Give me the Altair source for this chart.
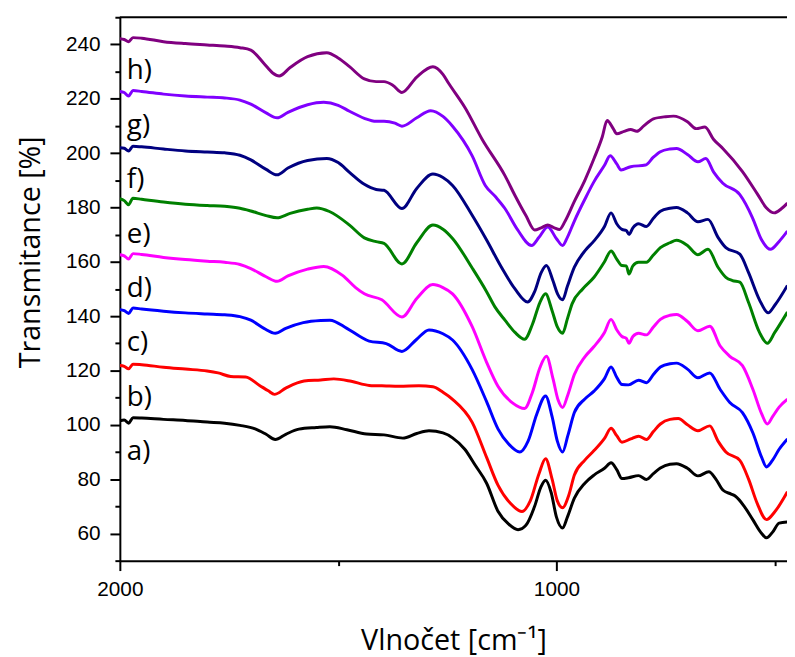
import altair as alt
import pandas as pd

series_keys = ["a", "b", "c", "d", "e", "f", "g", "h"]
series_colors = ["#000000", "#ff0000", "#0000ff", "#ff00ff", "#008000", "#000080", "#8000ff", "#800080"]
label_texts = ["a)", "b)", "c)", "d)", "e)", "f)", "g)", "h)"]
label_wn = [1984] * 8
label_tr = [90, 110, 130, 150, 170, 190, 210, 230]

wn_a = [2000, 1990, 1980, 1970, 1950, 1900, 1850, 1800, 1760, 1725, 1690, 1665, 1644, 1620, 1590, 1550, 1519, 1480, 1435, 1395, 1352, 1320, 1292, 1260, 1238, 1210, 1186, 1160, 1134, 1110, 1088, 1070, 1050, 1036, 1025, 1012, 1000, 986, 975, 959, 935, 914, 890, 875, 862, 850, 835, 812, 794, 778, 762, 740, 725, 700, 676, 651, 635, 619, 600, 590, 570, 550, 530, 519, 505, 490, 471]
tr_a = [101.5, 101.8, 100.6, 102.6, 102.5, 102.0, 101.6, 101.0, 100.6, 99.8, 98.5, 96.5, 94.6, 96.5, 98.4, 99.0, 99.3, 98.2, 96.6, 96.3, 95.1, 96.8, 97.8, 97.0, 95.2, 91.0, 85.1, 78.5, 68.2, 63.5, 61.4, 63.0, 70.0, 77.0, 79.6, 75.0, 66.0, 62.0, 66.0, 73.0, 78.5, 81.5, 84.0, 86.0, 83.5, 80.2, 80.5, 81.3, 79.9, 82.0, 84.1, 85.5, 85.7, 84.0, 81.2, 82.7, 80.0, 76.0, 74.5, 73.7, 70.0, 65.0, 60.0, 58.4, 60.5, 63.8, 64.2]

wn_b = [2000, 1990, 1980, 1970, 1950, 1900, 1850, 1800, 1775, 1746, 1712, 1680, 1660, 1646, 1620, 1578, 1540, 1510, 1470, 1429, 1390, 1360, 1315, 1283, 1260, 1238, 1193, 1160, 1134, 1105, 1079, 1060, 1040, 1025, 1010, 998, 986, 972, 959, 935, 914, 890, 875, 862, 850, 830, 812, 794, 778, 762, 740, 721, 700, 676, 649, 630, 612, 580, 560, 540, 519, 500, 471]
tr_b = [121.8, 121.5, 120.6, 122.3, 122.1, 121.2, 120.5, 119.8, 119.1, 117.8, 117.6, 114.5, 112.5, 111.2, 113.5, 116.1, 116.5, 116.9, 116.0, 114.5, 114.3, 114.2, 114.4, 114.0, 112.0, 109.4, 100.9, 88.0, 77.8, 71.0, 68.1, 72.0, 82.0, 87.5, 80.0, 72.0, 69.5, 74.0, 81.5, 87.0, 90.5, 95.0, 98.7, 96.0, 93.6, 94.8, 95.8, 94.6, 97.5, 100.3, 102.0, 102.3, 100.0, 97.8, 99.6, 94.0, 90.0, 86.9, 80.0, 71.0, 65.1, 68.0, 75.4]

wn_c = [2000, 1990, 1980, 1970, 1950, 1900, 1850, 1800, 1760, 1725, 1700, 1670, 1644, 1620, 1580, 1540, 1519, 1480, 1450, 1429, 1390, 1354, 1320, 1292, 1260, 1238, 1193, 1160, 1134, 1110, 1084, 1065, 1045, 1025, 1010, 998, 986, 974, 959, 935, 914, 890, 875, 862, 850, 835, 812, 794, 778, 762, 740, 725, 700, 676, 649, 625, 603, 574, 550, 530, 519, 505, 490, 471]
tr_c = [142.4, 142.0, 141.0, 143.0, 142.6, 141.8, 141.2, 140.8, 140.5, 139.8, 138.5, 135.5, 133.7, 135.5, 137.6, 138.4, 138.5, 135.5, 132.5, 130.8, 129.9, 127.0, 131.5, 134.9, 133.5, 131.2, 120.3, 108.5, 98.5, 93.0, 90.0, 94.0, 104.0, 110.6, 103.0, 94.0, 90.0, 96.0, 104.5, 109.5, 112.4, 117.0, 121.3, 117.5, 114.8, 114.7, 116.4, 115.5, 118.5, 121.3, 122.5, 122.7, 120.5, 117.3, 119.1, 113.0, 108.2, 104.5, 97.0, 88.0, 84.5, 87.0, 91.0, 94.8]

wn_d = [2000, 1990, 1980, 1970, 1950, 1900, 1850, 1800, 1760, 1725, 1700, 1665, 1640, 1615, 1570, 1533, 1490, 1460, 1440, 1400, 1354, 1320, 1283, 1260, 1238, 1193, 1160, 1134, 1100, 1073, 1055, 1038, 1023, 1008, 996, 986, 974, 959, 935, 914, 890, 875, 862, 850, 840, 834, 825, 812, 794, 778, 762, 740, 725, 700, 676, 649, 625, 603, 574, 550, 530, 517, 505, 490, 471]
tr_d = [162.6, 162.2, 161.0, 163.0, 162.7, 161.6, 160.8, 160.2, 159.8, 159.0, 157.5, 154.5, 152.8, 154.8, 157.3, 158.3, 155.0, 150.5, 148.2, 146.0, 139.7, 146.5, 151.6, 150.5, 148.2, 136.1, 123.0, 114.2, 108.0, 106.0, 112.0, 121.0, 125.2, 117.0, 109.0, 106.4, 111.0, 118.5, 125.0, 128.8, 134.0, 138.8, 135.0, 132.5, 131.8, 130.0, 132.5, 133.7, 133.1, 136.0, 138.8, 140.3, 140.6, 138.0, 134.6, 136.3, 129.0, 125.2, 121.8, 113.0, 104.0, 100.3, 103.0, 106.5, 109.4]

wn_e = [2000, 1990, 1980, 1970, 1950, 1900, 1850, 1800, 1760, 1725, 1700, 1665, 1640, 1610, 1570, 1549, 1520, 1474, 1440, 1413, 1395, 1354, 1320, 1283, 1260, 1238, 1193, 1160, 1141, 1118, 1095, 1073, 1055, 1038, 1025, 1010, 998, 986, 975, 964, 940, 914, 890, 875, 862, 850, 840, 834, 825, 812, 794, 778, 762, 740, 725, 700, 676, 653, 630, 612, 597, 580, 560, 535, 517, 500, 471]
tr_e = [183.2, 182.5, 181.0, 183.4, 183.0, 182.0, 181.2, 180.7, 180.4, 179.7, 178.7, 177.0, 176.2, 177.8, 179.3, 179.8, 178.5, 173.5, 168.8, 167.4, 166.8, 159.2, 167.0, 173.5, 172.0, 168.6, 157.7, 149.0, 143.4, 138.5, 134.0, 131.5, 137.0, 145.0, 148.2, 142.0, 136.0, 133.7, 139.0, 144.6, 150.0, 154.3, 160.0, 164.0, 161.0, 158.6, 158.5, 155.5, 158.5, 159.8, 159.8, 162.5, 165.2, 167.0, 167.9, 166.0, 162.6, 164.6, 158.0, 154.3, 153.1, 152.5, 145.0, 134.0, 130.0, 134.0, 141.5]

wn_f = [2000, 1990, 1980, 1970, 1950, 1900, 1850, 1800, 1760, 1725, 1700, 1665, 1640, 1615, 1570, 1526, 1500, 1474, 1440, 1413, 1395, 1354, 1320, 1283, 1260, 1238, 1193, 1160, 1125, 1095, 1066, 1050, 1035, 1023, 1008, 997, 986, 975, 959, 935, 914, 890, 875, 862, 850, 840, 834, 825, 812, 794, 778, 762, 740, 725, 700, 676, 653, 630, 612, 580, 560, 535, 515, 500, 471]
tr_f = [202.0, 201.8, 200.8, 202.5, 202.3, 201.5, 200.8, 200.4, 200.1, 199.2, 197.5, 194.0, 192.0, 194.5, 197.3, 198.0, 196.5, 192.9, 188.5, 186.6, 186.3, 179.6, 187.0, 192.3, 191.0, 188.1, 177.1, 168.0, 157.7, 150.0, 145.2, 149.0, 156.0, 158.6, 153.0, 148.0, 146.0, 151.0, 158.0, 164.0, 167.7, 173.0, 178.0, 174.0, 171.9, 171.5, 170.1, 172.5, 174.0, 173.0, 176.0, 178.6, 179.7, 180.0, 178.0, 174.7, 175.6, 169.0, 165.2, 162.8, 156.0, 146.0, 141.2, 144.0, 151.3]

wn_g = [2000, 1990, 1980, 1970, 1950, 1900, 1850, 1800, 1760, 1725, 1700, 1665, 1640, 1615, 1570, 1533, 1500, 1474, 1440, 1413, 1395, 1370, 1354, 1320, 1288, 1260, 1238, 1193, 1163, 1140, 1118, 1090, 1057, 1040, 1020, 1000, 986, 975, 959, 935, 914, 890, 877, 862, 852, 830, 796, 778, 762, 740, 725, 700, 676, 658, 640, 619, 580, 551, 530, 510, 490, 471]
tr_g = [222.7, 222.3, 221.0, 223.0, 222.7, 221.7, 221.0, 220.6, 220.3, 219.5, 218.0, 214.8, 213.0, 215.0, 217.8, 218.7, 217.6, 215.4, 212.8, 211.7, 211.7, 211.0, 209.9, 213.0, 215.6, 213.5, 209.9, 199.0, 188.1, 184.0, 179.6, 172.0, 166.0, 169.0, 172.8, 168.5, 166.0, 169.0, 175.0, 183.0, 189.5, 195.5, 199.0, 196.0, 193.8, 195.0, 195.6, 198.5, 200.5, 201.5, 201.7, 199.5, 196.8, 198.0, 193.0, 188.9, 184.7, 176.2, 168.0, 164.6, 167.5, 171.3]

wn_h = [2000, 1990, 1980, 1970, 1950, 1900, 1850, 1800, 1760, 1725, 1700, 1670, 1650, 1635, 1610, 1570, 1526, 1500, 1474, 1440, 1413, 1395, 1375, 1354, 1320, 1283, 1260, 1247, 1209, 1170, 1118, 1095, 1070, 1050, 1035, 1020, 1005, 993, 980, 959, 935, 914, 895, 884, 870, 862, 845, 830, 816, 800, 778, 750, 732, 700, 680, 660, 640, 619, 574, 540, 520, 501, 485, 471]
tr_h = [242.1, 241.8, 241.0, 242.5, 242.3, 241.0, 240.3, 239.8, 239.4, 238.8, 237.9, 233.0, 229.5, 228.4, 231.5, 235.5, 236.9, 235.0, 231.8, 227.3, 226.3, 226.3, 225.0, 222.3, 228.0, 231.8, 229.0, 225.7, 216.6, 205.0, 191.7, 184.4, 177.0, 171.7, 172.5, 173.5, 172.5, 171.9, 175.0, 182.2, 190.0, 198.0, 206.0, 212.0, 209.0, 207.1, 208.0, 208.7, 208.0, 210.0, 212.6, 213.4, 213.6, 211.5, 209.0, 209.6, 205.0, 201.7, 193.2, 185.0, 180.0, 178.0, 179.5, 181.6]

x_ticks = [2000, 1500, 1000, 500]
y_ticks = list(range(50, 251, 10))

all_series = [(series_keys[0], wn_a, tr_a), (series_keys[1], wn_b, tr_b), (series_keys[2], wn_c, tr_c),
              (series_keys[3], wn_d, tr_d), (series_keys[4], wn_e, tr_e), (series_keys[5], wn_f, tr_f),
              (series_keys[6], wn_g, tr_g), (series_keys[7], wn_h, tr_h)]
rows = []
for key, wns, trs in all_series:
    for w, t in zip(wns, trs):
        rows.append({"series": key, "wn": w, "tr": t})
df = pd.DataFrame(rows)
lab_df = pd.DataFrame({"label": label_texts, "wn": label_wn, "tr": label_tr})

W, H = 674, 549

x_enc = alt.X("wn:Q",
              scale=alt.Scale(domain=[2000, 472], nice=False, zero=False),
              axis=alt.Axis(values=x_ticks, format="d", grid=False, labelFlush=False,
                            labelExpr="datum.value % 1000 === 0 ? datum.label : ''",
                            tickSize={"condition": {"test": "datum.value % 1000 === 0", "value": 10}, "value": 5},
                            labelPadding=8, titlePadding=28,
                            title="Vlnočet [cm⁻¹]"))
y_enc = alt.Y("tr:Q",
              scale=alt.Scale(domain=[50, 250], nice=False, zero=False),
              axis=alt.Axis(values=y_ticks, format="d", grid=False, labelFlush=False,
                            labelExpr="datum.value % 20 === 0 ? datum.label : ''",
                            tickSize={"condition": {"test": "datum.value % 20 === 0", "value": 10}, "value": 5},
                            labelPadding=10, titlePadding=20, titleY=237,
                            title="Transmitance [%]"))

lines = alt.Chart(df).mark_line(strokeWidth=3, interpolate="monotone", clip=True).encode(
    x=x_enc, y=y_enc,
    color=alt.Color("series:N", scale=alt.Scale(domain=series_keys, range=series_colors), legend=None),
)

labels = alt.Chart(lab_df).mark_text(align="left", baseline="middle", font="Open Sans",
                                     fontSize=28, color="black").encode(
    x=x_enc, y=y_enc, text="label:N")

top = alt.Chart(pd.DataFrame({"k": [0]})).mark_rule(color="black", strokeWidth=2).encode(
    x=alt.value(0), x2=alt.value(W), y=alt.value(0))

chart = alt.layer(lines, labels, top).properties(
    width=W, height=H,
    autosize=alt.AutoSizeParams(type="none"),
    padding={"left": 113, "top": 6, "right": 0, "bottom": 94},
).configure_view(stroke=None).configure_axis(
    domainColor="black", domainWidth=2, tickColor="black", tickWidth=2,
    labelColor="black", labelFont="Liberation Sans", labelFontSize=21,
    titleFont="Open Sans", titleFontSize=29, titleFontWeight="normal", titleColor="black",
)

chart.save("out.html", embed_options={"renderer": "svg", "actions": False})
